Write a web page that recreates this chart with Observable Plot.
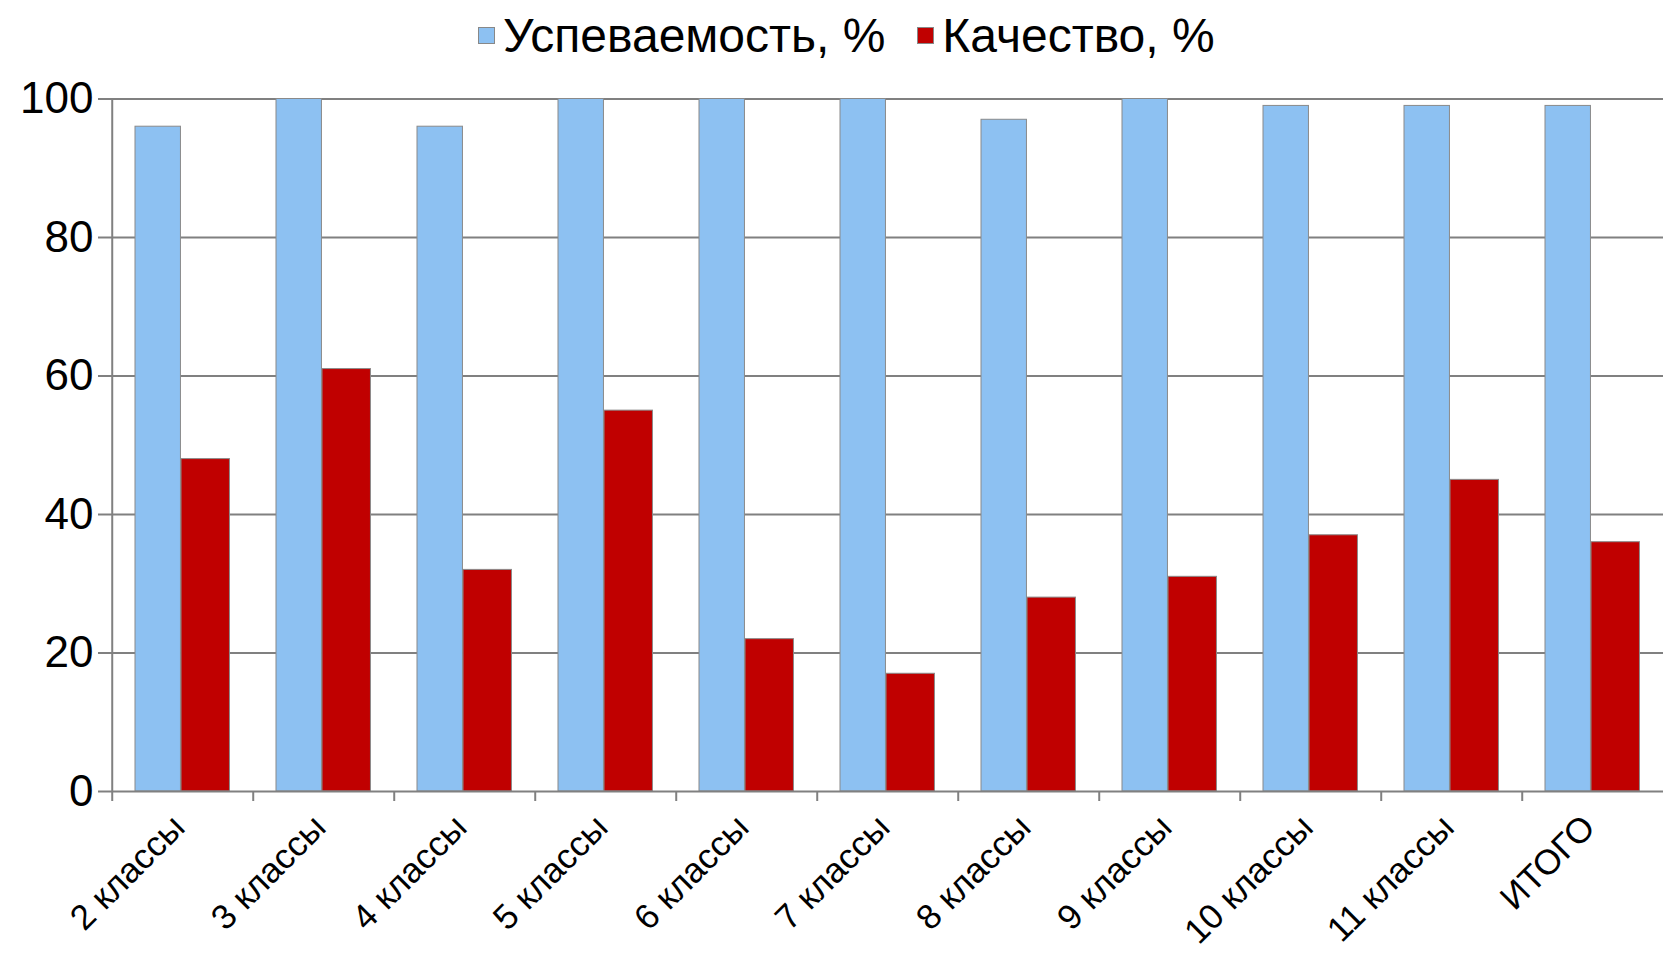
<!DOCTYPE html>
<html>
<head>
<meta charset="utf-8">
<script src="https://cdn.jsdelivr.net/npm/d3@7"></script>
<script src="https://cdn.jsdelivr.net/npm/@observablehq/plot@0.6"></script>
<style>
  html, body { margin: 0; padding: 0; background: #fff; overflow: hidden; }
  #legend { height: 70px; display: flex; justify-content: flex-start; align-items: center; padding-left: 478px;
    font-family: "Liberation Sans", Arial, sans-serif; font-size: 48px; color: #000; }
  #legend .item { display: flex; align-items: center; margin-right: 32px; }
  #legend .sw { width: 17px; height: 17px; margin-right: 8px; border: 1px solid #888; box-sizing: border-box; }
</style>
</head>
<body>
<div id="legend"></div>
<div id="chart"></div>
<script>
const categories = ["2 классы","3 классы","4 классы","5 классы","6 классы","7 классы","8 классы","9 классы","10 классы","11 классы","ИТОГО"];
const uspevaemost = [96, 100, 96, 100, 100, 100, 97, 100, 99, 99, 99];
const kachestvo = [48, 61, 32, 55, 22, 17, 28, 31, 37, 45, 36];
const seriesNames = ["Успеваемость, %", "Качество, %"];
const seriesColors = ["#8DC1F2", "#C00000"];
const yTicks = [0, 20, 40, 60, 80, 100];

const legend = document.getElementById("legend");
seriesNames.forEach((n, i) => {
  const it = document.createElement("div");
  it.className = "item";
  it.innerHTML = `<span class="sw" style="background:${seriesColors[i]}"></span><span>${n}</span>`;
  legend.appendChild(it);
});

const W = 1663, H = 883, mL = 109, mR = -3;
const bw = (W - mL - mR) / categories.length;
const dataU = categories.map((c, i) => ({cat: c, v: uspevaemost[i]}));
const dataK = categories.map((c, i) => ({cat: c, v: kachestvo[i]}));

const chart = Plot.plot({
  width: W, height: H,
  marginLeft: mL, marginRight: mR, marginTop: 28.5, marginBottom: 162,
  style: {fontFamily: "'Liberation Sans', Arial, sans-serif", background: "#fff", color: "#000"},
  x: {domain: categories, padding: 0, label: null},
  y: {domain: [0, 100], label: null},
  marks: [
    Plot.ruleY(yTicks.slice(1), {stroke: "#808080", strokeWidth: 2}),
    Plot.barY(dataU, {x: "cat", y: "v", fill: seriesColors[0], stroke: "#8a8a8a", strokeWidth: 1,
      insetLeft: 23, insetRight: bw - 69}),
    Plot.barY(dataK, {x: "cat", y: "v", fill: seriesColors[1], stroke: "#8a8a8a", strokeWidth: 1,
      insetLeft: 69, insetRight: bw - 118}),
    Plot.ruleY([0], {stroke: "#808080", strokeWidth: 2}),
    Plot.ruleX([categories[0]], {y1: 0, y2: 100, dx: -bw / 2, stroke: "#808080", strokeWidth: 2}),
    Plot.axisY({ticks: yTicks, tickSize: 11, tickPadding: 5, fontSize: 44, stroke: "#808080", strokeWidth: 2, label: null}),
    Plot.axisX({tickSize: 10, dx: -bw / 2, tickFormat: () => "", stroke: "#808080", strokeWidth: 2, label: null}),
    Plot.axisX({tickSize: 0, tickPadding: 30, dx: -4, tickRotate: -45, fontSize: 35, label: null})
  ]
});
document.getElementById("chart").appendChild(chart);
</script>
</body>
</html>
